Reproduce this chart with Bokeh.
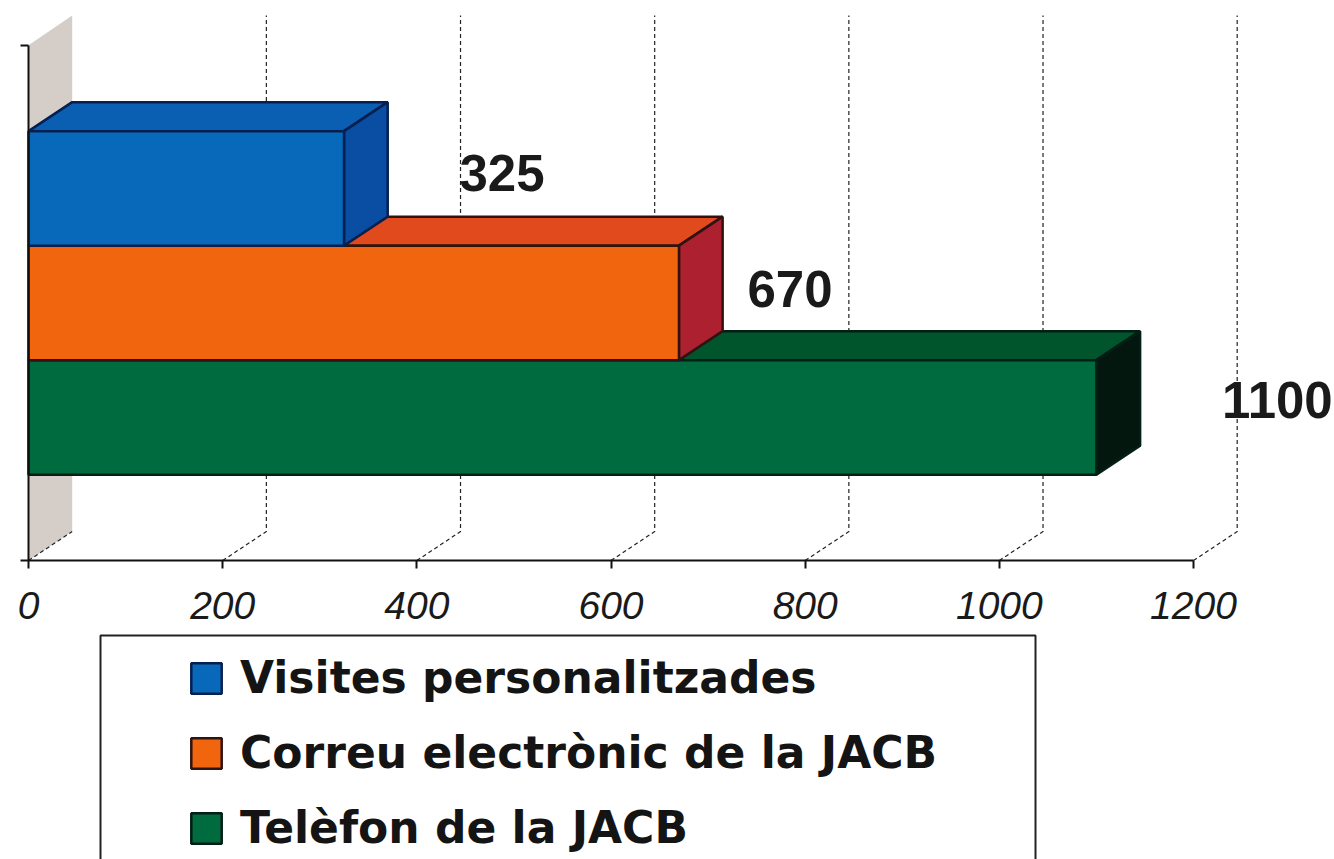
from bokeh.embed import file_html
from bokeh.resources import INLINE
from bokeh.plotting import figure
from bokeh.models import FixedTicker, Legend, LegendItem, BoxAnnotation
from bokeh.core.properties import value

series = ["Visites personalitzades", "Correu electrònic de la JACB", "Telèfon de la JACB"]
values = [325, 670, 1100]
tick_values = [0, 200, 400, 600, 800, 1000, 1200]
front_colors = ["#0869bb", "#f2650f", "#006b3e"]
top_colors = ["#0a5fb2", "#e04a1c", "#00552d"]
side_colors = ["#0a4ea3", "#ad2030", "#03170f"]
edge_colors = ["#061f50", "#301210", "#021e15"]

W, H = 1334, 859
PX_X = 1165 / 1200      # pixels per value unit
PX_Y = 114.5            # pixels per bar thickness
AX_X, AX_Y = 28, 560    # axis origin, figure pixels
DEPTH_X = 45            # value units
DEPTH_Y = 0.253         # bar thicknesses
BASE = 0.75
AXIS_TOP = 4.5
GRID_TOP = 4.76

p = figure(
    width=W, height=H, output_backend="svg", toolbar_location=None,
    x_range=(-AX_X / PX_X, (W - AX_X) / PX_X),
    y_range=(-(H - AX_Y) / PX_Y, AX_Y / PX_Y),
    min_border=0, outline_line_color=None, background_fill_color="white",
    border_fill_color="white",
)
p.grid.visible = False

# side wall at zero
p.patch([0, DEPTH_X, DEPTH_X, 0], [0, DEPTH_Y, GRID_TOP, AXIS_TOP],
        fill_color="#d5cec8", line_color=None)

# depth gridlines
p.multi_line(
    [[t, t + DEPTH_X, t + DEPTH_X] if t else [t, t + DEPTH_X] for t in tick_values],
    [[0, DEPTH_Y, GRID_TOP] if t else [0, DEPTH_Y] for t in tick_values],
    line_color="#222222", line_width=1.2, line_dash="4 3",
)

# bars, back to front
front = {}
for i in reversed(range(len(values))):
    v = values[i]
    b = BASE + (len(values) - 1 - i)
    p.patch([0, v, v + DEPTH_X, DEPTH_X], [b + 1, b + 1, b + 1 + DEPTH_Y, b + 1 + DEPTH_Y],
            fill_color=top_colors[i], line_color=edge_colors[i], line_width=2.5)
    p.patch([v, v + DEPTH_X, v + DEPTH_X, v], [b, b + DEPTH_Y, b + 1 + DEPTH_Y, b + 1],
            fill_color=side_colors[i], line_color=edge_colors[i], line_width=2.5)
    front[i] = p.quad(left=0, right=v, bottom=b, top=b + 1,
                      fill_color=front_colors[i], line_color=edge_colors[i], line_width=2.5)

# value labels
p.text(
    x=values,
    y=[BASE + 2.5, BASE + 1.5, BASE + 0.5],
    text=[str(v) for v in values],
    x_offset=[158, 111, 181], y_offset=[-15, -14, -17],
    text_font=value("Liberation Sans"), text_font_style="bold",
    text_font_size="51px", text_color="#1a1a1a",
    text_align="center", text_baseline="middle",
)

# axes
ax = p.xaxis[0]
ax.fixed_location = 0
ax.bounds = (0, 1200)
ax.ticker = FixedTicker(ticks=tick_values)
ax.major_tick_in = 0
ax.major_tick_out = 8
ax.minor_tick_line_color = None
ax.axis_line_color = "#111111"
ax.axis_line_width = 2
ax.major_tick_line_color = "#111111"
ax.major_tick_line_width = 2
ax.major_label_standoff = 23
ax.major_label_text_font = "Liberation Sans"
ax.major_label_text_font_style = "italic"
ax.major_label_text_font_size = "39px"
ax.major_label_text_color = "#1a1a1a"

ay = p.yaxis[0]
ay.fixed_location = 0
ay.bounds = (0, AXIS_TOP)
ay.ticker = FixedTicker(ticks=[0, AXIS_TOP])
ay.major_label_overrides = {0: "", AXIS_TOP: ""}
ay.major_tick_in = 0
ay.major_tick_out = 8
ay.minor_tick_line_color = None
ay.axis_line_color = "#111111"
ay.axis_line_width = 2
ay.major_tick_line_color = "#111111"
ay.major_tick_line_width = 2

# legend box
p.add_layout(BoxAnnotation(
    left=100, right=1035, top=H - 635, bottom=-6,
    left_units="screen", right_units="screen", top_units="screen", bottom_units="screen",
    fill_color=None, fill_alpha=0, line_color="#222222", line_alpha=1, line_width=2, level="overlay",
))

legend = Legend(
    items=[LegendItem(label=series[i], renderers=[front[i]]) for i in range(len(series))],
    location=(187, 6), orientation="vertical",
    border_line_color=None, background_fill_alpha=0, padding=0, margin=0,
    glyph_width=38, glyph_height=38, label_standoff=15, spacing=24,
    label_text_font="DejaVu Sans", label_text_font_style="bold",
    label_text_font_size="44px", label_text_color="#141414",
    label_height=33,
)
p.add_layout(legend, "center")

open("out.html", "w").write(file_html(p, INLINE))
